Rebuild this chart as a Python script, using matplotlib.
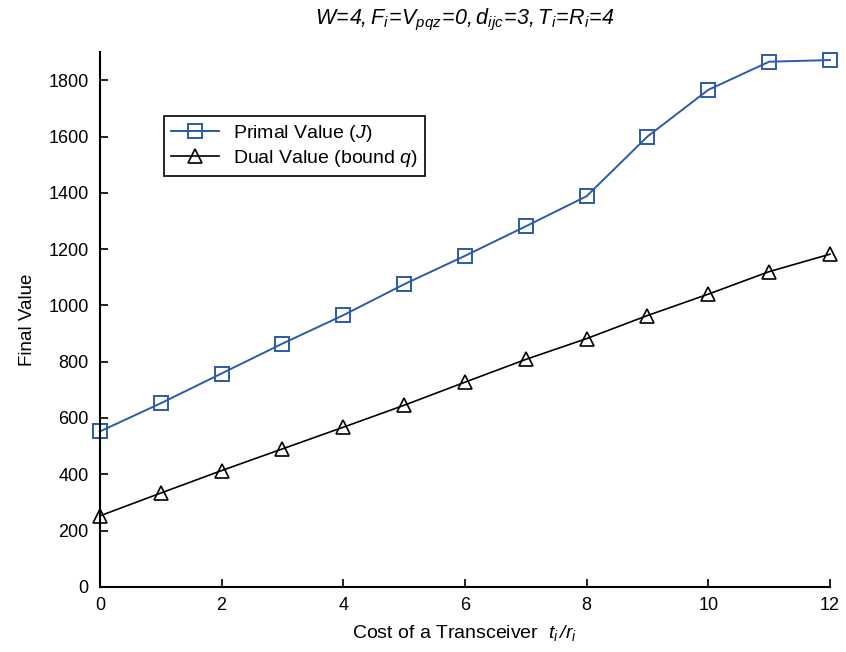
import matplotlib
matplotlib.use('Agg')
import matplotlib.pyplot as plt

plt.rcParams['font.family'] = ['Liberation Sans', 'DejaVu Sans']
plt.rcParams['mathtext.fontset'] = 'custom'
# all math text in the figure is italic (title digits included)
plt.rcParams['mathtext.rm'] = 'Liberation Sans:italic'
plt.rcParams['mathtext.it'] = 'Liberation Sans:italic'
plt.rcParams['mathtext.bf'] = 'Liberation Sans:bold'

cost = [0, 1, 2, 3, 4, 5, 6, 7, 8, 9, 10, 11, 12]
primal = [552, 652, 758, 864, 965, 1075, 1176, 1281, 1388, 1600, 1766, 1866, 1872]
dual = [252, 333, 413, 490, 567, 645, 727, 808, 882, 964, 1040, 1120, 1182]
xticks = [0, 2, 4, 6, 8, 10, 12]
yticks = [0, 200, 400, 600, 800, 1000, 1200, 1400, 1600, 1800]

blue = '#2b5ba8'


def main():
    fig = plt.figure(figsize=(8.46, 6.52), dpi=100)
    ax = fig.add_axes([0.118, 0.10, 0.863, 0.82])

    ax.plot(cost, primal, color=blue, lw=1.4, marker='s', ms=10,
            mfc='none', mec=blue, mew=1.4, label=r'Primal Value ($J$)')
    ax.plot(cost, dual, color='black', lw=1.2, marker='^', ms=10.5,
            mfc='none', mec='black', mew=1.2, label=r'Dual Value (bound $q$)')

    ax.set_xlim(0, 12)
    ax.set_ylim(0, 1900)
    ax.set_xticks(xticks)
    ax.set_yticks(yticks)
    ax.tick_params(direction='in', length=6, width=1.2, labelsize=13)
    ax.tick_params(axis='y', pad=8)
    ax.tick_params(axis='x', pad=7)
    ax.spines['top'].set_visible(False)
    ax.spines['right'].set_visible(False)
    ax.spines['left'].set_linewidth(1.5)
    ax.spines['bottom'].set_linewidth(1.5)
    for line in ax.lines:
        line.set_clip_on(False)

    ax.set_xlabel(r'Cost of a Transceiver  $t_i\,/r_i$', fontsize=14, labelpad=7)
    ax.set_ylabel('Final Value', fontsize=13.5, labelpad=9)
    ax.set_title(r'$W\!=\!4,F_i\!=\!V_{pqz}\!=\!0,d_{ijc}\!=\!3,T_i\!=\!R_i\!=\!4$',
                 fontsize=15.5, pad=20)

    leg = ax.legend(loc='upper left', bbox_to_anchor=(0.088, 0.88), fontsize=14,
                    fancybox=False, framealpha=1, edgecolor='black',
                    handlelength=2.5, borderpad=0.35, labelspacing=0.2,
                    handletextpad=0.7, borderaxespad=0)
    leg.get_frame().set_linewidth(1.2)

    fig.savefig('out.png', dpi=100)


if __name__ == '__main__':
    main()
